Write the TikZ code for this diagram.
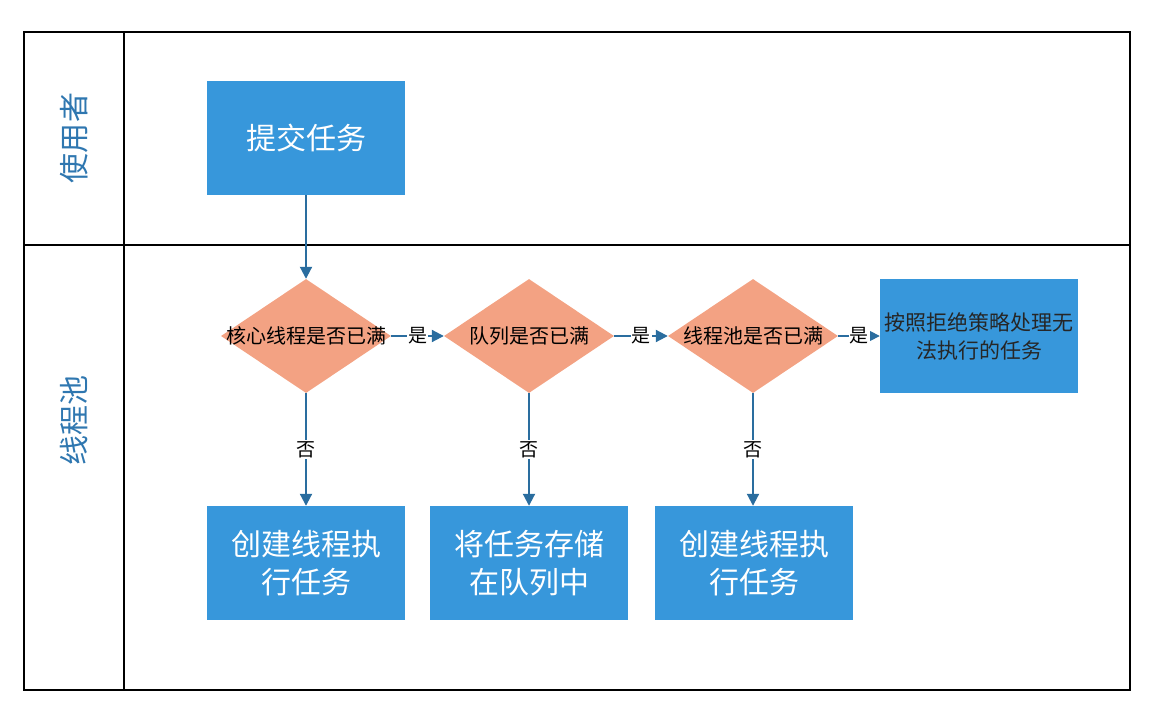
\documentclass[tikz,border=0pt]{standalone}
\usepackage{fontspec}
\setmainfont{Noto Sans CJK SC}
\usetikzlibrary{arrows.meta,positioning,shapes.geometric}
\definecolor{taskblue}{HTML}{3797DB}
\definecolor{checkorange}{HTML}{F3A283}
\definecolor{flowline}{HTML}{2A6D9F}
\definecolor{lanetext}{HTML}{2F77B0}

\begin{document}
\begin{tikzpicture}[x=1pt,y=-1pt,
  taskbox/.style={fill=taskblue,minimum width=198pt,minimum height=114pt,inner sep=0pt,align=center,text=white,font=\fontsize{30}{38}\selectfont},
  check/.style={diamond,fill=checkorange,minimum width=170pt,minimum height=114pt,inner sep=0pt},
  checktext/.style={font=\fontsize{20}{24}\selectfont,text=black},
  flow/.style={draw=flowline,line width=2pt,-{Triangle[length=12pt,width=12pt]}},
  yes/.style={fill=white,inner sep=1pt,font=\fontsize{19}{22}\selectfont},
  lane/.style={rotate=90,text=lanetext,font=\fontsize{30}{36}\selectfont}]
\useasboundingbox (0,0) rectangle (1161,722);
% lanes
\draw[line width=1.5pt] (24,32) rectangle (1130,690);
\draw[line width=1.5pt] (124,32) -- (124,690);
\draw[line width=1.5pt] (24,245) -- (1130,245);
\node[lane] (user) at (74,138) {使用者};
\node[lane] (pool) at (74,420) {线程池};
% nodes
\node[taskbox] (submit) at (306,138) {提交任务};
\node[check] (q1) at (306,336) {};
\node[checktext] at (q1) {核心线程是否已满};
\node[check] (q2) at (529,336) {};
\node[checktext] at (q2) {队列是否已满};
\node[check] (q3) at (753,336) {};
\node[checktext] at (q3) {线程池是否已满};
\node[taskbox,text=black!85,font=\fontsize{21}{28}\selectfont] (reject) at (979,336) {按照拒绝策略处理无\\法执行的任务};
\node[taskbox] (core) at (306,563) {创建线程执\\行任务};
\node[taskbox] (queue) at (529,563) {将任务存储\\在队列中};
\node[taskbox] (extra) at (754,563) {创建线程执\\行任务};
% arrows
\draw[flow] (submit) -- (q1);
\draw[flow] (q1) -- node[yes]{是} (q2);
\draw[flow] (q2) -- node[yes]{是} (q3);
\draw[flow] (q3) -- node[yes]{是} (reject);
\draw[flow] (q1) -- node[yes]{否} (core);
\draw[flow] (q2) -- node[yes]{否} (queue);
\draw[flow] (q3) -- node[yes]{否} (q3 |- extra.north);
\end{tikzpicture}
\end{document}
